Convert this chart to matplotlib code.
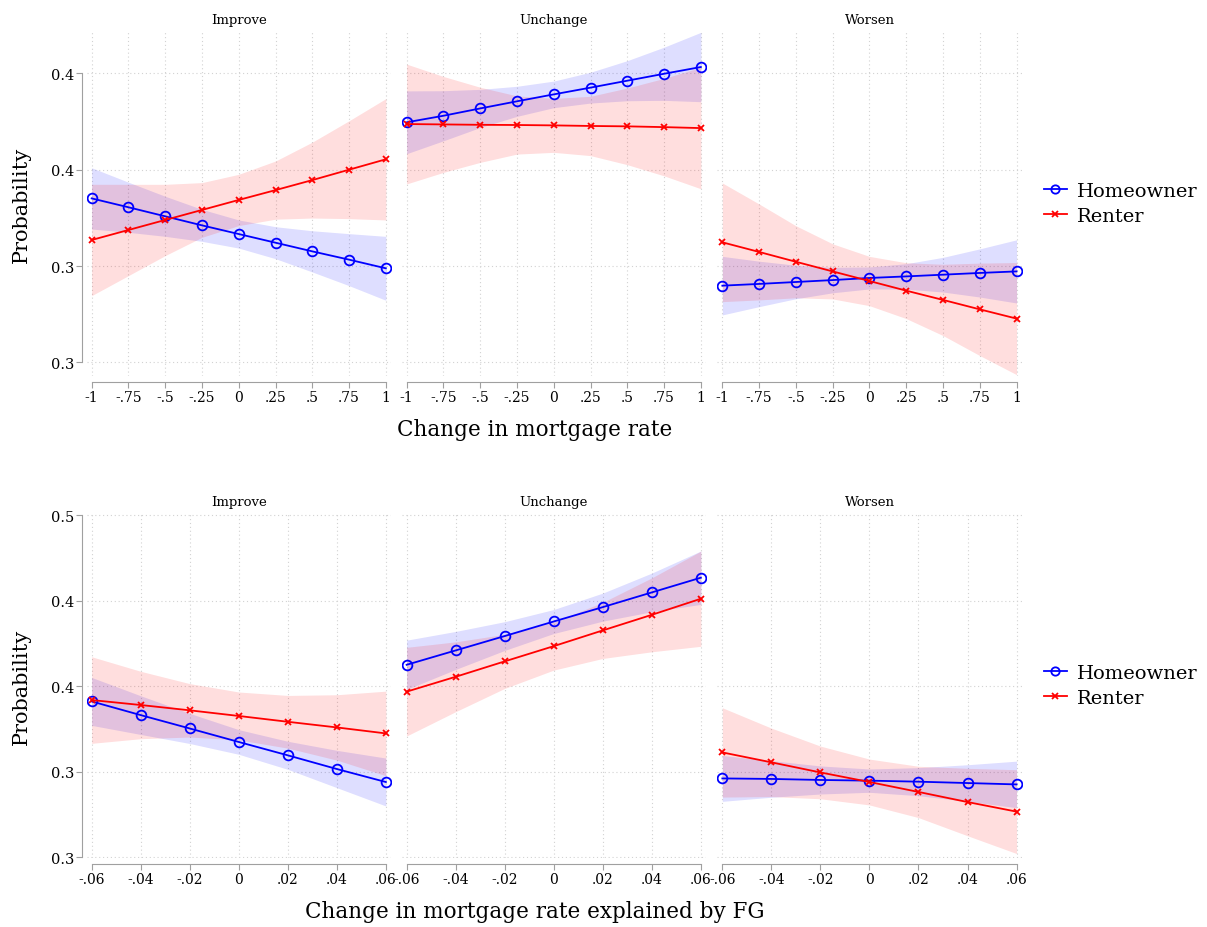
import matplotlib
matplotlib.use('Agg')
import matplotlib.pyplot as plt
from matplotlib.lines import Line2D
import numpy as np

plt.rcParams['font.family'] = ['DejaVu Serif']

outcomes = ['Improve', 'Unchange', 'Worsen']

# top row: change in mortgage rate
x_rate = [-1, -0.75, -0.5, -0.25, 0, 0.25, 0.5, 0.75, 1]
x_rate_labels = ['-1', '-.75', '-.5', '-.25', '0', '.25', '.5', '.75', '1']

home_rate_improve = [0.3851, 0.3805, 0.3758, 0.3711, 0.3666, 0.3621, 0.3576, 0.3533, 0.3488]
home_rate_improve_hw = [0.0159, 0.0130, 0.0104, 0.0083, 0.0073, 0.0083, 0.0107, 0.0135, 0.0166]
rent_rate_improve = [0.3635, 0.3687, 0.3739, 0.3791, 0.3843, 0.3894, 0.3946, 0.4000, 0.4054]
rent_rate_improve_hw = [0.0289, 0.0237, 0.0185, 0.0142, 0.0133, 0.0151, 0.0197, 0.0254, 0.0315]

home_rate_unchange = [0.4246, 0.4280, 0.4318, 0.4355, 0.4391, 0.4426, 0.4462, 0.4498, 0.4533]
home_rate_unchange_hw = [0.0163, 0.0130, 0.0099, 0.0078, 0.0069, 0.0080, 0.0104, 0.0138, 0.0180]
rent_rate_unchange = [0.4237, 0.4235, 0.4233, 0.4232, 0.4230, 0.4227, 0.4225, 0.4221, 0.4216]
rent_rate_unchange_hw = [0.0311, 0.0249, 0.0195, 0.0151, 0.0140, 0.0154, 0.0199, 0.0253, 0.0315]

home_rate_worsen = [0.3398, 0.3407, 0.3417, 0.3427, 0.3438, 0.3446, 0.3455, 0.3464, 0.3472]
home_rate_worsen_hw = [0.0152, 0.0118, 0.0087, 0.0066, 0.0057, 0.0066, 0.0090, 0.0125, 0.0164]
rent_rate_worsen = [0.3623, 0.3573, 0.3522, 0.3472, 0.3422, 0.3372, 0.3324, 0.3275, 0.3227]
rent_rate_worsen_hw = [0.0308, 0.0249, 0.0187, 0.0143, 0.0128, 0.0145, 0.0185, 0.0240, 0.0291]

# bottom row: change explained by FG
x_fg = [-0.06, -0.04, -0.02, 0, 0.02, 0.04, 0.06]
x_fg_labels = ['-.06', '-.04', '-.02', '0', '.02', '.04', '.06']

home_fg_improve = [0.3911, 0.3831, 0.3753, 0.3674, 0.3596, 0.3516, 0.3440]
home_fg_improve_hw = [0.0140, 0.0113, 0.0088, 0.0072, 0.0082, 0.0109, 0.0140]
rent_fg_improve = [0.3919, 0.3890, 0.3859, 0.3826, 0.3792, 0.3759, 0.3724]
rent_fg_improve_hw = [0.0253, 0.0197, 0.0156, 0.0140, 0.0154, 0.0191, 0.0247]

home_fg_unchange = [0.4125, 0.4209, 0.4293, 0.4378, 0.4462, 0.4548, 0.4634]
home_fg_unchange_hw = [0.0144, 0.0111, 0.0084, 0.0070, 0.0082, 0.0113, 0.0156]
rent_fg_unchange = [0.3968, 0.4055, 0.4145, 0.4234, 0.4326, 0.4417, 0.4511]
rent_fg_unchange_hw = [0.0259, 0.0204, 0.0158, 0.0140, 0.0164, 0.0216, 0.0278]

home_fg_worsen = [0.3461, 0.3458, 0.3452, 0.3448, 0.3442, 0.3434, 0.3426]
home_fg_worsen_hw = [0.0134, 0.0107, 0.0082, 0.0068, 0.0082, 0.0107, 0.0136]
rent_fg_worsen = [0.3613, 0.3555, 0.3496, 0.3440, 0.3382, 0.3323, 0.3267]
rent_fg_worsen_hw = [0.0261, 0.0200, 0.0154, 0.0134, 0.0150, 0.0197, 0.0245]

y_top_ticks = [0.30, 0.35, 0.40, 0.45]
y_top_labels = ['0.3', '0.3', '0.4', '0.4']
y_bot_ticks = [0.30, 0.35, 0.40, 0.45, 0.50]
y_bot_labels = ['0.3', '0.3', '0.4', '0.4', '0.5']

W, H = 1207, 928
fig = plt.figure(figsize=(W / 100, H / 100), dpi=100)

col_left = [86.5, 401.5, 717.2]
col_w = 304.5
axis_grey = '#a0a0a0'


def draw_row(top_px, bot_px, x, xlabels, xlim, ylim, yticks, ylabels, series, xtitle, xtitle_y):
    for i, name in enumerate(outcomes):
        ax = fig.add_axes([col_left[i] / W, 1 - bot_px / H, col_w / W, (bot_px - top_px) / H])
        home, home_hw, rent, rent_hw = [np.array(s) for s in series[i]]
        ax.fill_between(x, home - home_hw, home + home_hw, color='blue', alpha=0.13, lw=0)
        ax.fill_between(x, rent - rent_hw, rent + rent_hw, color='red', alpha=0.13, lw=0)
        ax.plot(x, home, color='blue', lw=1.3, marker='o', ms=7, mfc='none', mew=1.3)
        ax.plot(x, rent, color='red', lw=1.3, marker='x', ms=4, mew=1.3)
        ax.set_xlim(xlim)
        ax.set_ylim(ylim)
        ax.set_xticks(x)
        ax.set_xticklabels(xlabels, fontsize=10.5)
        ax.set_yticks(yticks)
        ax.grid(True, color='#d2d2d2', ls=(0, (1, 2.5)), lw=0.8)
        ax.set_axisbelow(True)
        for s in ['top', 'right']:
            ax.spines[s].set_visible(False)
        ax.spines['bottom'].set_position(('outward', 4))
        ax.spines['bottom'].set_bounds(x[0], x[-1])
        ax.spines['bottom'].set_color(axis_grey)
        ax.tick_params(axis='x', colors=axis_grey, labelcolor='black', length=4, pad=2)
        if i == 0:
            ax.spines['left'].set_position(('outward', 3))
            ax.spines['left'].set_bounds(yticks[0], yticks[-1])
            ax.spines['left'].set_color(axis_grey)
            ax.set_yticklabels(ylabels, fontsize=10.5)
            ax.tick_params(axis='y', colors=axis_grey, labelcolor='black', length=4, pad=2)
            ax.set_ylabel('Probability', fontsize=15, labelpad=14)
        else:
            ax.spines['left'].set_visible(False)
            ax.tick_params(axis='y', length=0, labelleft=False)
        ax.set_title(name, fontsize=9.5, pad=6)
    fig.text(535 / W, xtitle_y, xtitle, ha='center', va='center', fontsize=15.5)
    handles = [Line2D([], [], color='blue', lw=1.3, marker='o', ms=6, mfc='none', mew=1.3),
               Line2D([], [], color='red', lw=1.3, marker='x', ms=4, mew=1.3)]
    mid = 1 - (top_px + bot_px) / 2 / H
    fig.legend(handles, ['Homeowner', 'Renter'], loc='center left',
               bbox_to_anchor=(1030 / W, mid), frameon=False, fontsize=14,
               handlelength=1.2, handletextpad=0.5, labelspacing=0.35, borderpad=0.2)


top_series = [
    (home_rate_improve, home_rate_improve_hw, rent_rate_improve, rent_rate_improve_hw),
    (home_rate_unchange, home_rate_unchange_hw, rent_rate_unchange, rent_rate_unchange_hw),
    (home_rate_worsen, home_rate_worsen_hw, rent_rate_worsen, rent_rate_worsen_hw),
]
bot_series = [
    (home_fg_improve, home_fg_improve_hw, rent_fg_improve, rent_fg_improve_hw),
    (home_fg_unchange, home_fg_unchange_hw, rent_fg_unchange, rent_fg_unchange_hw),
    (home_fg_worsen, home_fg_worsen_hw, rent_fg_worsen, rent_fg_worsen_hw),
]

draw_row(32, 377, x_rate, x_rate_labels, (-1.035, 1.035), (0.2929, 0.472),
         y_top_ticks, y_top_labels, top_series, 'Change in mortgage rate', 1 - 430 / H)
draw_row(514, 859, x_fg, x_fg_labels, (-0.0621, 0.0621), (0.2996, 0.5012),
         y_bot_ticks, y_bot_labels, bot_series, 'Change in mortgage rate explained by FG', 1 - 912 / H)

fig.savefig('out.png', dpi=100)
